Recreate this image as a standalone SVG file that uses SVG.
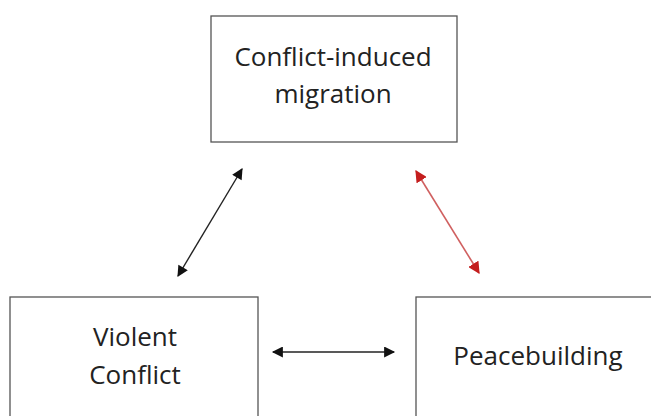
<svg xmlns="http://www.w3.org/2000/svg" width="651" height="416" viewBox="0 0 651 416">
<style>
.box{fill:#fff;stroke:#555;stroke-width:1.3}
.t{font-family:"Open Sans","Noto Sans",sans-serif;font-size:26px;fill:#222;text-anchor:middle}
.c{stroke:#222;stroke-width:1.4;fill:none}
.r{stroke:#d06060;stroke-width:1.6;fill:none}
</style>
<defs>
<marker id="ak" viewBox="0 0 10 10" refX="9" refY="5" markerWidth="12" markerHeight="11" markerUnits="userSpaceOnUse" orient="auto-start-reverse"><path d="M0,0 L10,5 L0,10 z" fill="#111"/></marker>
<marker id="ar" viewBox="0 0 10 10" refX="9" refY="5" markerWidth="12" markerHeight="12" markerUnits="userSpaceOnUse" orient="auto-start-reverse"><path d="M0,0 L10,5 L0,10 z" fill="#c41e1e"/></marker>
</defs>
<rect width="651" height="416" fill="#fff"/>
<g id="migration">
<rect class="box" x="211" y="16" width="246" height="126"/>
<text class="t" x="333" y="66">Conflict-induced</text>
<text class="t" x="333" y="103">migration</text>
</g>
<g id="violent">
<rect class="box" x="10" y="297" width="248" height="130"/>
<text class="t" x="135" y="346">Violent</text>
<text class="t" x="135" y="384">Conflict</text>
</g>
<g id="peace">
<rect class="box" x="416" y="297" width="245" height="130"/>
<text class="t" x="538" y="365">Peacebuilding</text>
</g>
<g id="connectors">
<line class="c" x1="242" y1="169" x2="178" y2="276" marker-start="url(#ak)" marker-end="url(#ak)"/>
<line class="r" x1="416" y1="171" x2="479" y2="273" marker-start="url(#ar)" marker-end="url(#ar)"/>
<line class="c" x1="273" y1="352" x2="394" y2="352" marker-start="url(#ak)" marker-end="url(#ak)"/>
</g>
</svg>
